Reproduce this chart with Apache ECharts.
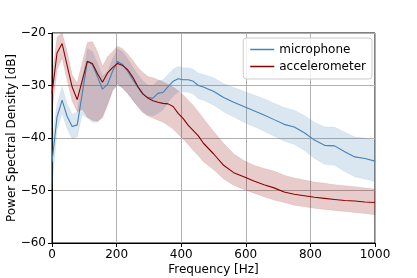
<!DOCTYPE html>
<html>
<head>
<meta charset="utf-8">
<script src="https://cdn.jsdelivr.net/npm/echarts@6/dist/echarts.min.js"></script>
<style>html,body{margin:0;padding:0;background:#fff;}#c{width:417px;height:278px;}</style>
</head>
<body>
<div id="c"></div>
<script>
const freq = [0, 15.6, 31.3, 46.9, 62.5, 78.1, 93.8, 109.4, 125, 140.6, 156.3, 171.9, 187.5, 203.1, 218.8, 234.4, 250, 265.6, 281.3, 296.9, 312.5, 328.1, 343.8, 359.4, 375, 390.6, 406.3, 421.9, 437.5, 453.1, 468.8, 484.4, 500, 531.3, 562.5, 593.8, 625, 656.3, 687.5, 718.8, 750, 781.3, 812.5, 843.8, 875, 906.3, 937.5, 968.8, 1000];

const micMean = [-44.6, -36.0, -32.8, -35.9, -37.8, -37.5, -31.5, -25.4, -26.0, -28.3, -30.7, -29.8, -27.3, -25.4, -26.0, -27.3, -28.9, -30.3, -31.6, -32.3, -32.4, -31.5, -31.3, -30.2, -29.2, -28.7, -28.9, -28.9, -29.2, -30.0, -30.3, -30.7, -31.1, -32.3, -33.2, -34.0, -34.8, -35.6, -36.5, -37.4, -37.9, -39.0, -40.4, -41.4, -41.5, -42.6, -43.6, -43.9, -44.4];
const micUpper = [-40.5, -33.5, -30.2, -33.5, -35.5, -35.0, -29.0, -23.0, -23.5, -25.8, -28.2, -27.4, -25.0, -23.0, -23.6, -24.9, -26.5, -27.9, -29.2, -29.9, -30.0, -29.1, -28.9, -27.9, -26.9, -26.4, -26.6, -26.6, -26.9, -27.6, -27.9, -28.2, -28.5, -29.6, -30.4, -31.1, -31.8, -32.5, -33.4, -34.2, -34.7, -35.7, -37.0, -37.9, -37.9, -38.9, -39.8, -40.0, -40.4];
const micLower = [-49.5, -38.5, -35.3, -38.3, -40.1, -39.8, -35.5, -36.2, -37.0, -37.0, -35.8, -33.5, -31.0, -30.0, -30.5, -31.5, -32.8, -34.0, -35.0, -35.6, -35.8, -35.3, -34.6, -33.2, -32.0, -31.2, -31.2, -31.3, -31.6, -32.5, -32.8, -33.3, -33.7, -35.0, -36.0, -37.0, -37.8, -38.7, -39.6, -40.6, -41.2, -42.4, -43.9, -45.0, -45.2, -46.4, -47.4, -47.8, -48.3];

const accMean = [-31.5, -23.8, -22.0, -26.2, -30.3, -32.7, -29.0, -25.4, -25.8, -27.7, -29.4, -27.6, -26.6, -25.8, -26.2, -27.0, -28.4, -30.2, -31.6, -32.4, -32.9, -33.2, -33.4, -33.5, -34.0, -35.3, -36.3, -37.6, -38.6, -39.6, -41.0, -42.0, -43.0, -45.2, -46.6, -47.4, -48.2, -48.9, -49.5, -50.3, -50.7, -51.0, -51.3, -51.5, -51.7, -51.9, -52.0, -52.2, -52.3];
const accUpper = [-28.5, -20.8, -19.8, -23.5, -28.0, -29.5, -25.5, -21.8, -21.6, -23.5, -26.4, -24.5, -23.5, -22.5, -23.0, -24.0, -25.2, -26.5, -27.5, -28.3, -28.5, -28.9, -29.3, -29.8, -30.3, -31.0, -31.8, -32.8, -33.8, -35.0, -36.3, -37.5, -38.7, -41.0, -43.0, -44.3, -45.2, -45.8, -46.3, -47.1, -47.6, -48.0, -48.4, -48.6, -48.9, -49.1, -49.3, -49.5, -49.7];
const accLower = [-35.0, -27.0, -24.8, -29.0, -33.0, -35.0, -34.5, -36.0, -36.6, -36.8, -36.2, -33.8, -31.0, -29.6, -30.5, -31.5, -32.8, -34.0, -35.2, -35.8, -36.2, -36.6, -37.0, -37.6, -38.3, -39.3, -40.2, -41.3, -42.4, -43.4, -44.5, -45.3, -46.0, -47.8, -49.0, -49.8, -50.5, -51.2, -51.8, -52.3, -52.8, -53.1, -53.4, -53.6, -53.8, -54.0, -54.2, -54.4, -54.6];

const xTicks = [0, 200, 400, 600, 800, 1000];
const yTicks = [-60, -50, -40, -30, -20];

const pair = (arr) => freq.map((f, i) => [f, arr[i]]);
const rows = (lo, hi) => freq.map((f, i) => [f, lo[i], hi[i]]);

const blueLine = '#4682b4';
const redLine = '#8b0000';
const FONT = 'DejaVu Sans';

function band(id, lo, hi, fill, edge) {
  const data = rows(lo, hi);
  return {
    name: id, type: 'custom', data: data, silent: true, z: 1,
    encode: { x: 0, y: [1, 2] },
    renderItem: function (params, api) {
      if (params.dataIndex !== 0) return null;
      const top = data.map(d => api.coord([d[0], d[2]]));
      const bot = data.map(d => api.coord([d[0], d[1]])).reverse();
      const cs = params.coordSys;
      const pts = echarts.graphic.clipPointsByRect(top.concat(bot),
        { x: cs.x, y: cs.y, width: cs.width, height: cs.height });
      return {
        type: 'polygon',
        shape: { points: pts },
        style: { fill: fill, stroke: edge, lineWidth: 0.7 }
      };
    }
  };
}

const chart = echarts.init(document.getElementById('c'), null, { renderer: 'canvas' });
chart.setOption({
  animation: false,
  backgroundColor: '#fff',
  textStyle: { fontFamily: FONT },
  grid: { left: 52, right: 42, top: 33, bottom: 35, outerBoundsMode: 'none', containLabel: false,
    show: true, borderColor: '#000', borderWidth: 1, backgroundColor: 'transparent' },
  legend: {
    data: [{ name: 'microphone' }, { name: 'accelerometer' }],
    orient: 'vertical', right: 45, top: 38,
    icon: 'rect', itemWidth: 24, itemHeight: 1.5, itemGap: 4,
    padding: [5, 6, 6, 7],
    backgroundColor: 'rgba(255,255,255,0.8)', borderColor: '#cccccc', borderWidth: 1, borderRadius: 3,
    textStyle: { fontFamily: FONT, fontSize: 12, color: '#000', lineHeight: 13 }
  },
  xAxis: {
    type: 'value', min: 0, max: 1000, interval: 200,
    name: 'Frequency [Hz]', nameLocation: 'middle', nameGap: 21, nameMoveOverlap: false,
    nameTextStyle: { fontFamily: FONT, fontSize: 12, color: '#000' },
    axisLine: { show: true, lineStyle: { color: '#000', width: 1 } },
    axisTick: { show: true, length: 4, lineStyle: { color: '#000' } },
    axisLabel: { fontFamily: FONT, fontSize: 12, color: '#000', margin: 6,
      formatter: v => xTicks.includes(v) ? String(v) : '' },
    splitLine: { show: true, lineStyle: { color: '#b0b0b0', width: 1 } }
  },
  yAxis: {
    type: 'value', min: -60, max: -20, interval: 10,
    name: 'Power Spectral Density [dB]', nameLocation: 'middle', nameGap: 34, nameMoveOverlap: false,
    nameTextStyle: { fontFamily: FONT, fontSize: 12, color: '#000' },
    axisLine: { show: true, lineStyle: { color: '#000', width: 1 } },
    axisTick: { show: true, length: 4, lineStyle: { color: '#000' } },
    axisLabel: { fontFamily: FONT, fontSize: 12, color: '#000', margin: 6,
      formatter: v => yTicks.includes(v) ? String(v).replace('-', '\u2212') : '' },
    splitLine: { show: true, lineStyle: { color: '#b0b0b0', width: 1 } }
  },
  series: [
    band('micBand', micLower, micUpper, 'rgba(70,130,180,0.2)', 'rgba(70,130,180,0.12)'),
    { name: 'microphone', type: 'line', data: pair(micMean), symbol: 'none',
      lineStyle: { color: blueLine, width: 1.1 }, itemStyle: { color: blueLine }, z: 3 },
    band('accBand', accLower, accUpper, 'rgba(139,0,0,0.2)', 'rgba(139,0,0,0.12)'),
    { name: 'accelerometer', type: 'line', data: pair(accMean), symbol: 'none',
      lineStyle: { color: redLine, width: 1.1 }, itemStyle: { color: redLine }, z: 4 }
  ]
});
</script>
</body>
</html>
